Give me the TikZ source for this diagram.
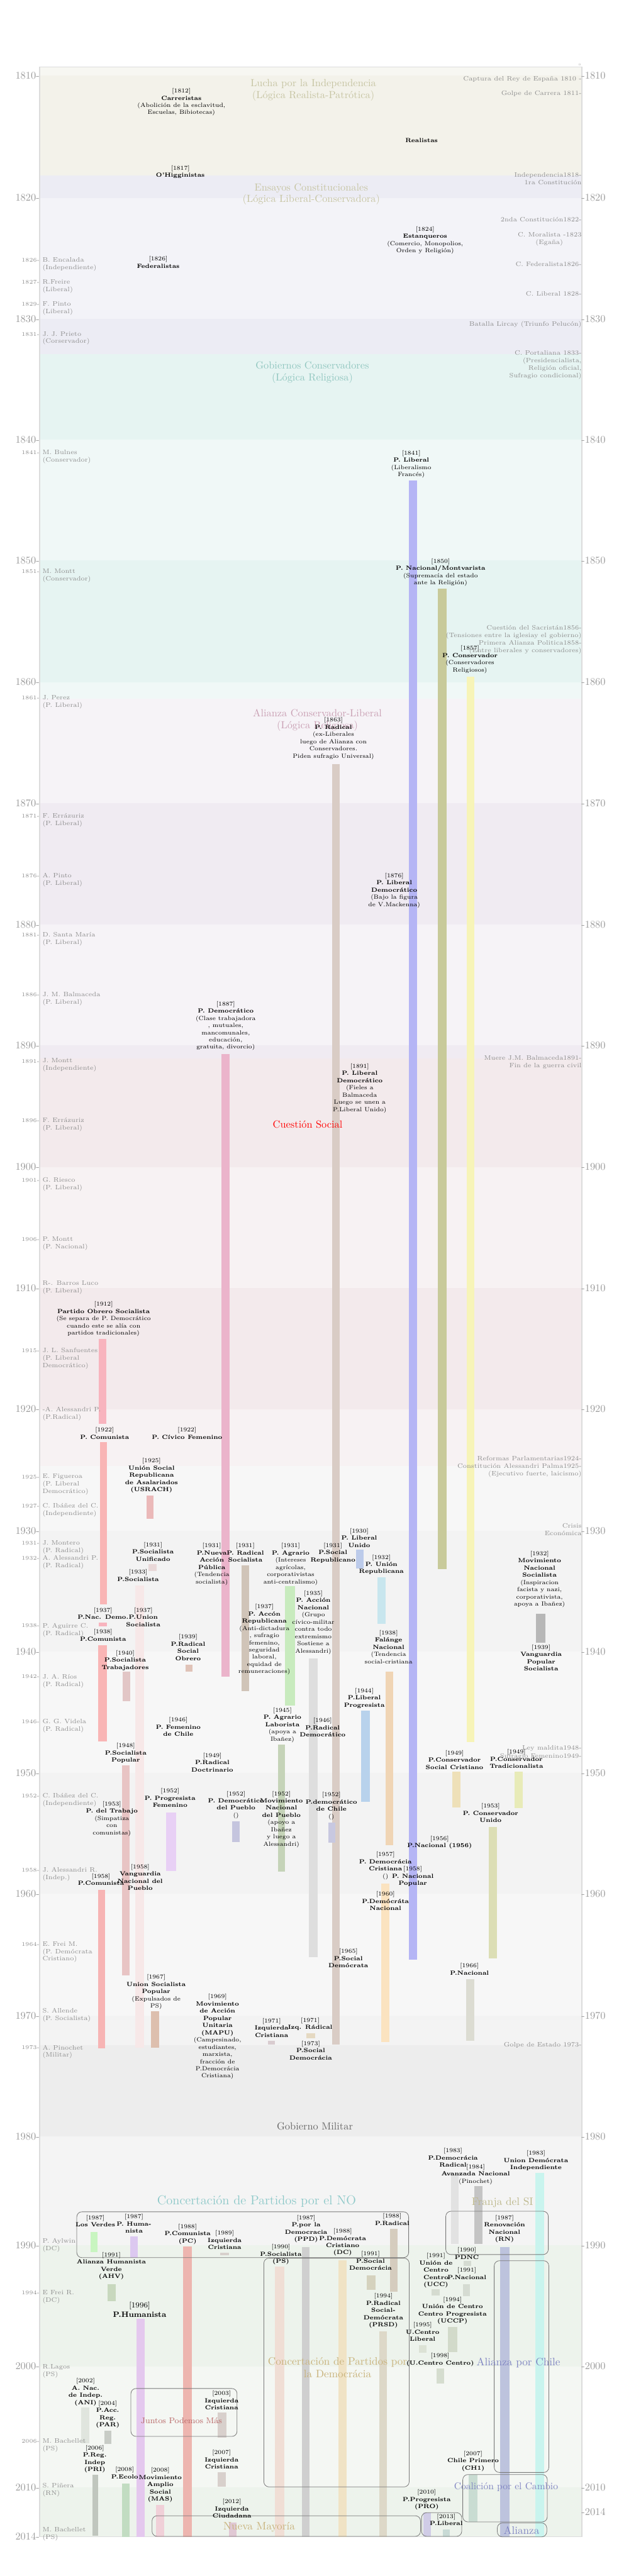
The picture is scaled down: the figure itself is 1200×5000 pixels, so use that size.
\documentclass[tikz,border=0pt]{standalone}
\usepackage{fontspec}
\definecolor{gtx}{HTML}{8E8E8E}
\definecolor{axg}{HTML}{9A9A9A}
\definecolor{framec}{HTML}{DCDCDC}
\definecolor{boxg}{HTML}{7A7A7A}
\definecolor{eA}{HTML}{F3F2EA}
\definecolor{eB}{HTML}{ECECF4}
\definecolor{eC}{HTML}{E6F4F2}
\definecolor{eD}{HTML}{F0EBF2}
\definecolor{eE}{HTML}{F3EAEC}
\definecolor{eF}{HTML}{F3F3F3}
\definecolor{eG}{HTML}{EDEDED}
\definecolor{eH}{HTML}{EDF3EC}
\definecolor{tA}{HTML}{C6C4A2}
\definecolor{tC}{HTML}{90C6BF}
\definecolor{tD}{HTML}{C99FB3}
\definecolor{tGob}{HTML}{666666}
\definecolor{tNO}{HTML}{8CC8C8}
\definecolor{tSI}{HTML}{BDB88C}
\definecolor{tCon}{HTML}{C8B27A}
\definecolor{tAl}{HTML}{7F84C2}
\definecolor{tJP}{HTML}{B86868}
\newcommand{\pty}[4]{\node[pty] (#1) at (#2,#3-6) {#4};}
\newcommand{\pbar}[5]{\definecolor{barc}{HTML}{#5}\fill[barc] (#1,#2) rectangle (#3,#4);}
\newcommand{\prs}[4]{\node[presyr] (#1y) at (77,#2+3) {#3}; \node[pres] (#1) at (82,#2-6) {#4};}
\newcommand{\prn}[3]{\node[pres] (#1) at (82,#2-6) {#3};}
\newcommand{\evnt}[3]{\node[evt] (#1) at (1129,#2-6) {#3};}
\begin{document}
\begin{tikzpicture}[x=0.5pt,y=-0.5pt,
 pty/.style={anchor=north, align=center, inner sep=0pt, font=\fontsize{5.8}{7}\selectfont},
 pres/.style={anchor=north west, align=left, inner sep=0pt, text=gtx, font=\fontsize{6.2}{7.3}\selectfont},
 presyr/.style={anchor=base east, inner sep=0pt, text=gtx, font=\fontsize{5.4}{6.5}\selectfont},
 evt/.style={anchor=north east, align=right, inner sep=0pt, text=gtx, font=\fontsize{6.2}{7.3}\selectfont},
 yrl/.style={anchor=east, inner sep=0pt, text=axg, font=\fontsize{10}{12}\selectfont},
 yrr/.style={anchor=west, inner sep=0pt, text=axg, font=\fontsize{10}{12}\selectfont},
 era/.style={align=center, inner sep=0pt, font=\fontsize{10}{11.3}\selectfont},
 coal/.style={draw=boxg, line width=0.5pt, rounded corners=5pt},
 ctitle/.style={align=center, inner sep=0pt}]
\useasboundingbox (0,0) rectangle (1200,5000);
\fill[white] (0,0) rectangle (1200,5000);
% eras
\fill[eA] (77,130) rectangle (1129,341);
\fill[eB] (77,341) rectangle (1129,687);
\fill[eC] (77,687) rectangle (1129,1356);
\fill[eD] (77,1356) rectangle (1129,2055);
\fill[eE] (77,2055) rectangle (1129,2845);
\fill[eF] (77,2845) rectangle (1129,3970);
\fill[eG] (77,3970) rectangle (1129,4358);
\fill[eH] (77,4358) rectangle (1129,4924);
\foreach \a/\b in {130/147,384/619,853/1088,1324/1559,1795/2029,2265/2500,2735/2971,3206/3441,3676/3912,4147/4358,4593/4828}
  \fill[white,opacity=0.4] (77,\a) rectangle (1129,\b);
\draw[framec, line width=0.8pt] (77,130) rectangle (1129,4924);
\node[inner sep=0pt, text=axg, font=\fontsize{3}{3}\selectfont] (zero) at (1125,126) {0};
% axis
\foreach \yr/\yy in {1810/147,1820/384,1830/619,1840/853,1850/1088,1860/1324,1870/1559,1880/1795,1890/2029,1900/2265,1910/2500,1920/2735,1930/2971,1940/3206,1950/3441,1960/3676,1970/3912,1980/4147,1990/4358,2000/4593,2010/4828}{
  \node[yrl] (L\yr) at (77,\yy) {\yr-};
  \node[yrr] (R\yr) at (1128,\yy) {-\yr};
}
\node[yrl] (L2014) at (77,4923) {2014-};
\node[yrr] (R2014) at (1128,4876) {-2014};
% bars
\pbar{793}{933}{809}{3804}{B5B5F5}
\pbar{849}{1142}{867}{3046}{C8CA9A}
\pbar{906}{1314}{920}{3381}{F7F4B8}
\pbar{645}{1483}{659}{3969}{D9CCC5}
\pbar{430}{2046}{445}{3254}{EBB4CB}
\pbar{192}{2599}{206}{2764}{F8B4BE}
\pbar{194}{2799}{207}{3114}{F9B5B5}
\pbar{285}{2903}{298}{2948}{EBB9B9}
\pbar{691}{3008}{706}{3044}{BCCBEA}
\pbar{288}{3036}{304}{3049}{E9D8D8}
\pbar{469}{3038}{484}{3283}{D0C4B8}
\pbar{553}{3079}{572}{3310}{C8EBBE}
\pbar{732}{3062}{748}{3152}{C8E6EE}
\pbar{1040}{3132}{1058}{3188}{B7B7B7}
\pbar{263}{3077}{280}{3975}{F7E8E8}
\pbar{599}{3219}{617}{3799}{DEDEDE}
\pbar{192}{3149}{207}{3157}{F8B4BE}
\pbar{191}{3193}{207}{3380}{F9B5B5}
\pbar{748}{3245}{763}{3582}{F0D5B5}
\pbar{360}{3231}{373}{3244}{E0C3B8}
\pbar{238}{3245}{253}{3302}{E2C6C6}
\pbar{701}{3320}{718}{3497}{B8D2EC}
\pbar{539}{3386}{553}{3633}{C5D3B8}
\pbar{237}{3426}{252}{3834}{E8C4C4}
\pbar{878}{3439}{893}{3508}{EEE0B8}
\pbar{999}{3439}{1015}{3509}{E8EBB8}
\pbar{322}{3518}{342}{3631}{E8D0F5}
\pbar{451}{3535}{465}{3575}{C5C5DE}
\pbar{637}{3538}{651}{3577}{C8C8E0}
\pbar{949}{3546}{964}{3801}{DCDEB5}
\pbar{740}{3656}{756}{3964}{FBE3C0}
\pbar{190}{3668}{204}{3976}{F7B4B4}
\pbar{905}{3842}{920}{3961}{DCDCD2}
\pbar{293}{3904}{309}{3974}{DDBFAE}
\pbar{520}{3961}{533}{3968}{D9CCD0}
\pbar{594}{3947}{612}{3956}{E5D9C2}
\pbar{875}{4220}{890}{4356}{E2E2E2}
\pbar{921}{4243}{936}{4356}{C4C4C4}
\pbar{1039}{4218}{1056}{4924}{C9F4EE}
\pbar{970}{4361}{989}{4924}{BDC3DD}
\pbar{176}{4332}{189}{4371}{C8F5C0}
\pbar{253}{4341}{267}{4382}{DCC8F0}
\pbar{355}{4360}{372}{4924}{EDB5AF}
\pbar{427}{4373}{444}{4377}{D8D0CC}
\pbar{586}{4361}{601}{4924}{CFCFCF}
\pbar{657}{4387}{673}{4924}{F0E3C5}
\pbar{757}{4326}{771}{4448}{D5CCBE}
\pbar{534}{4399}{552}{4924}{F0DED5}
\pbar{209}{4433}{224}{4466}{C8D8BE}
\pbar{900}{4388}{914}{4398}{D5DBD2}
\pbar{712}{4417}{729}{4445}{D5D2BE}
\pbar{838}{4443}{853}{4456}{D5DBD0}
\pbar{899}{4434}{912}{4457}{D5DBD2}
\pbar{736}{4525}{751}{4924}{DDD8C8}
\pbar{869}{4516}{888}{4565}{D2DACA}
\pbar{813}{4552}{828}{4566}{DCE2D5}
\pbar{847}{4597}{862}{4627}{D5DDCF}
\pbar{265}{4501}{281}{4924}{E4C8EE}
\pbar{158}{4673}{173}{4742}{E0E5DE}
\pbar{203}{4718}{216}{4743}{C8CCC6}
\pbar{422}{4683}{440}{4731}{D8D0CC}
\pbar{179}{4804}{190}{4922}{C0C6BE}
\pbar{422}{4799}{438}{4827}{D8D0CC}
\pbar{237}{4821}{252}{4924}{C2DCC2}
\pbar{303}{4862}{318}{4924}{F0D0D8}
\pbar{444}{4896}{459}{4924}{E0C8D4}
\pbar{910}{4804}{927}{4895}{C9DCD2}
\pbar{822}{4877}{836}{4923}{D0CCE6}
\pbar{859}{4910}{873}{4924}{C8DAD5}
% era titles
\node[era, text=tA] (eraA) at (608,175) {Lucha por la Independencia\\(Lógica Realista-Patrótica)};
\node[era, text=tA] (eraB) at (604,377) {Ensayos Constitucionales\\(Lógica Liberal-Conservadora)};
\node[era, text=tC] (eraC) at (606,723) {Gobiernos Conservadores\\(Lógica Religiosa)};
\node[era, text=tD] (eraD) at (616,1398) {Alianza Conservador-Liberal\\(Lógica Religiosa)};
\node[era, text=red] (eraE) at (597,2183) {Cuestión Social};
\node[era, text=tGob] (eraG) at (611,4127) {Gobierno Militar};
% coalition boxes
\draw[coal] (149,4293) rectangle (793,4382);
\draw[coal] (512,4383) rectangle (794,4827);
\draw[coal] (865,4292) rectangle (1064,4376);
\draw[coal] (959,4388) rectangle (1065,4799);
\draw[coal] (254,4636) rectangle (460,4729);
\draw[coal] (898,4803) rectangle (1062,4895);
\draw[coal] (295,4883) rectangle (816,4923);
\draw[coal] (818,4877) rectangle (896,4923);
\draw[coal] (965,4897) rectangle (1061,4924);
% coalition titles
\node[ctitle, text=tNO, font=\fontsize{12.5}{14}\selectfont] (noT) at (498,4273) {Concertación de Partidos por el NO};
\node[ctitle, text=tSI, font=\fontsize{10.5}{12}\selectfont] (siT) at (975,4275) {Franja del SI};
\node[ctitle, text=tCon, font=\fontsize{10.5}{12}\selectfont] (conT) at (655,4595) {Concertación de Partidos por\\la Democrácia};
\node[ctitle, text=tAl, font=\fontsize{10.5}{12}\selectfont] (apcT) at (1006,4586) {Alianza por Chile};
\node[ctitle, text=tJP, font=\fontsize{8}{10}\selectfont] (jpT) at (352,4698) {Juntos Podemos Más};
\node[ctitle, text=tAl, font=\fontsize{9.5}{11}\selectfont] (cpcT) at (982,4827) {Coalición por el Cambio};
\node[ctitle, text=tCon, font=\fontsize{10.5}{12}\selectfont] (nmT) at (503,4905) {Nueva Mayoría};
\node[ctitle, text=tAl, font=\fontsize{10.5}{12}\selectfont] (alT) at (1012,4911) {Alianza};
% parties
\pty{carr}{352}{177}{[1812]\\\textbf{Carreristas}\\(Abolición de la esclavitud,\\Escuelas, Bibiotecas)}
\pty{real}{818}{274}{\textbf{Realistas}}
\pty{ohig}{350}{327}{[1817]\\\textbf{O'Higginistas}}
\pty{estq}{825}{445}{[1824]\\\textbf{Estanqueros}\\(Comercio, Monopolios,\\Orden y Religión)}
\pty{fedr}{307}{503}{[1826]\\\textbf{Federalistas}}
\pty{plib}{798}{880}{[1841]\\\textbf{P. Liberal}\\(Liberalismo\\Francés)}
\pty{pnac}{855}{1090}{[1850]\\\textbf{P. Nacional/Montvarista}\\(Supremacía del estado\\ante la Religión)}
\pty{pcon}{912}{1259}{[1857]\\\textbf{P. Conservador}\\(Conservadores\\Religiosos)}
\pty{prad}{647}{1398}{[1863]\\\textbf{P. Radical}\\(ex-Liberales\\luego de Alianza con\\Conservadores.\\Piden sufragio Universal)}
\pty{pld76}{765}{1700}{[1876]\\\textbf{P. Liberal}\\\textbf{Democrático}\\(Bajo la figura\\de V.Mackenna)}
\pty{pdem}{438}{1949}{[1887]\\\textbf{P. Democrático}\\(Clase trabajadora\\, mutuales,\\mancomunales,\\educación,\\gratuita, divorcio)}
\pty{pld91}{698}{2070}{[1891]\\\textbf{P. Liberal}\\\textbf{Democrático}\\(Fieles a\\Balmaceda\\Luego se unen a\\P.Liberal Unido)}
\pty{pos}{201}{2532}{[1912]\\\textbf{Partido Obrero Socialista}\\(Se separa de P. Democrático\\cuando este se alía con\\partidos tradicionales)}
\pty{pc22}{203}{2776}{[1922]\\\textbf{P. Comunista}}
\pty{pcf}{363}{2776}{[1922]\\\textbf{P. Cívico Femenino}}
\pty{usrach}{294}{2836}{[1925]\\\textbf{Unión Social}\\\textbf{Republicana}\\\textbf{de Asalariados}\\\textbf{(USRACH)}}
\pty{plu}{697}{2972}{[1930]\\\textbf{P. Liberal}\\\textbf{Unido}}
\pty{psu}{297}{2999}{[1931]\\\textbf{P.Socialista}\\\textbf{Unificado}}
\pty{pnap}{411}{3001}{[1931]\\\textbf{P.Nueva}\\\textbf{Acción}\\\textbf{Pública}\\(Tendencia\\socialista)}
\pty{prs}{476}{3001}{[1931]\\\textbf{P. Radical}\\\textbf{Socialista}}
\pty{pagr}{564}{3001}{[1931]\\\textbf{P. Agrario}\\(Intereses\\agrícolas,\\corporativistas\\anti-centralismo)}
\pty{psr}{646}{3000}{[1931]\\\textbf{P.Social}\\\textbf{Republicano}}
\pty{pur}{740}{3023}{[1932]\\\textbf{P. Unión}\\\textbf{Republicana}}
\pty{mns}{1047}{3016}{[1932]\\\textbf{Movimiento}\\\textbf{Nacional}\\\textbf{Socialista}\\(Inspiracion\\facista y nazi,\\corporativista,\\apoya a Ibañez)}
\pty{ps33}{268}{3052}{[1933]\\\textbf{P.Socialista}}
\pty{pan}{608}{3093}{[1935]\\\textbf{P. Acción}\\\textbf{Nacional}\\(Grupo\\cívico-militar\\contra todo\\extremismo\\Sostiene a\\Alessandri)}
\pty{pnd}{200}{3126}{[1937]\\\textbf{P.Nac. Demo.}}
\pty{pus}{278}{3126}{[1937]\\\textbf{P.Union}\\\textbf{Socialista}}
\pty{par}{513}{3119}{[1937]\\\textbf{P. Accón}\\\textbf{Republicana}\\(Anti-dictadura\\, sufragio\\femenino,\\seguridad\\laboral,\\equidad de\\remuneraciones)}
\pty{pc38}{200}{3168}{[1938]\\\textbf{P.Comunista}}
\pty{fal}{754}{3170}{[1938]\\\textbf{Falánge}\\\textbf{Nacional}\\(Tendencia\\social-cristiana}
\pty{prso}{365}{3178}{[1939]\\\textbf{P.Radical}\\\textbf{Social}\\\textbf{Obrero}}
\pty{vps}{1050}{3198}{[1939]\\\textbf{Vanguardia}\\\textbf{Popular}\\\textbf{Socialista}}
\pty{pst}{243}{3209}{[1940]\\\textbf{P.Socialista}\\\textbf{Trabajadores}}
\pty{plp}{707}{3282}{[1944]\\\textbf{P.Liberal}\\\textbf{Progresista}}
\pty{pal}{548}{3320}{[1945]\\\textbf{P. Agrario}\\\textbf{Laborista}\\(apoya a\\Ibañez)}
\pty{pfc}{346}{3339}{[1946]\\\textbf{P. Femenino}\\\textbf{de Chile}}
\pty{prd}{626}{3340}{[1946]\\\textbf{P.Radical}\\\textbf{Democrático}}
\pty{psp}{244}{3389}{[1948]\\\textbf{P.Socialista}\\\textbf{Popular}}
\pty{prdoc}{412}{3408}{[1949]\\\textbf{P.Radical}\\\textbf{Doctrinario}}
\pty{pcsc}{882}{3403}{[1949]\\\textbf{P.Conservador}\\\textbf{Social Cristiano}}
\pty{pct}{1002}{3401}{[1949]\\\textbf{P.Conservador}\\\textbf{Tradicionalista}}
\pty{ppf}{330}{3477}{[1952]\\\textbf{P. Progresista}\\\textbf{Femenino}}
\pty{pdp}{458}{3482}{[1952]\\\textbf{P. Democrático}\\\textbf{del Pueblo}\\()}
\pty{mnp}{546}{3482}{[1952]\\\textbf{Movimiento}\\\textbf{Nacional}\\\textbf{del Pueblo}\\(apoyo a\\Ibañez\\y luego a\\Alessandri)}
\pty{pdc52}{643}{3484}{[1952]\\\textbf{P.democrático}\\\textbf{de Chile}\\()}
\pty{ptr}{217}{3502}{[1953]\\\textbf{P. del Trabajo}\\(Simpatiza\\con\\comunistas)}
\pty{pcu}{952}{3506}{[1953]\\\textbf{P. Conservador}\\\textbf{Unido}}
\pty{pn56}{853}{3569}{[1956]\\\textbf{P.Nacional (1956)}}
\pty{pdc57}{748}{3600}{[1957]\\\textbf{P. Democrácia}\\\textbf{Cristiana}\\()}
\pty{vnp}{272}{3624}{[1958]\\\textbf{Vanguardia}\\\textbf{Nacional del}\\\textbf{Pueblo}}
\pty{pc58}{196}{3642}{[1958]\\\textbf{P.Comunista}}
\pty{pnp}{801}{3628}{[1958]\\\textbf{P. Nacional}\\\textbf{Popular}}
\pty{pdn}{748}{3677}{[1960]\\\textbf{P.Demócráta}\\\textbf{Nacional}}
\pty{psd65}{676}{3788}{[1965]\\\textbf{P.Social}\\\textbf{Demócrata}}
\pty{pn66}{911}{3816}{[1966]\\\textbf{P.Nacional}}
\pty{usp}{303}{3838}{[1967]\\\textbf{Union Socialista}\\\textbf{Popular}\\(Expulsados de\\PS)}
\pty{mapu}{422}{3876}{[1969]\\\textbf{Movimiento}\\\textbf{de Acción}\\\textbf{Popular}\\\textbf{Unitaria}\\\textbf{(MAPU)}\\(Campesinado,\\estudiantes,\\marxista,\\fracción de\\P.Democrácia\\Cristiana)}
\pty{ic71}{527}{3923}{[1971]\\\textbf{Izquierda}\\\textbf{Cristiana}}
\pty{ir71}{602}{3922}{[1971]\\\textbf{Izq. Rádical}}
\pty{psd73}{603}{3967}{[1973]\\\textbf{P.Social}\\\textbf{Democrácia}}
\pty{pdr83}{879}{4175}{[1983]\\\textbf{P.Democrácia}\\\textbf{Radical}}
\pty{an84}{923}{4206}{[1984]\\\textbf{Avanzada Nacional}\\(Pinochet)}
\pty{udi}{1040}{4180}{[1983]\\\textbf{Union Demócrata}\\\textbf{Independiente}}
\pty{rn}{979}{4305}{[1987]\\\textbf{Renovación}\\\textbf{Nacional}\\\textbf{(RN)}}
\pty{lv}{185}{4305}{[1987]\\\textbf{Los Verdes}}
\pty{phu87}{260}{4303}{[1987]\\\textbf{P. Huma-}\\\textbf{nista}}
\pty{pc88}{364}{4322}{[1988]\\\textbf{P.Comunista}\\\textbf{(PC)}}
\pty{ic89}{436}{4335}{[1989]\\\textbf{Izquierda}\\\textbf{Cristiana}}
\pty{ppd}{594}{4305}{[1987]\\\textbf{P.por la}\\\textbf{Democracia}\\\textbf{(PPD)}}
\pty{dc88}{665}{4331}{[1988]\\\textbf{P.Demócrata}\\\textbf{Cristiano}\\\textbf{(DC)}}
\pty{pr88}{761}{4302}{[1988]\\\textbf{P.Radical}}
\pty{ps90}{545}{4362}{[1990]\\\textbf{P.Socialista}\\\textbf{(PS)}}
\pty{ahv}{216}{4377}{[1991]\\\textbf{Alianza Humanista}\\\textbf{Verde}\\\textbf{(AHV)}}
\pty{pdnc}{906}{4368}{[1990]\\\textbf{PDNC}}
\pty{psdm91}{719}{4375}{[1991]\\\textbf{P.Social}\\\textbf{Democrácia}}
\pty{ucc}{846}{4379}{[1991]\\\textbf{Unión de}\\\textbf{Centro}\\\textbf{Centro}\\\textbf{(UCC)}}
\pty{pn91}{906}{4407}{[1991]\\\textbf{P.Nacional}}
\pty{prsd}{744}{4457}{[1994]\\\textbf{P.Radical}\\\textbf{Social-}\\\textbf{Demócrata}\\\textbf{(PRSD)}}
\pty{uccp}{878}{4464}{[1994]\\\textbf{Unión de Centro}\\\textbf{Centro Progresista}\\\textbf{(UCCP)}}
\pty{ucl}{820}{4513}{[1995]\\\textbf{U.Centro}\\\textbf{Liberal}}
\pty{ucc98}{854}{4573}{[1998]\\\textbf{(U.Centro Centro)}}
\node[pty, font=\fontsize{7.5}{9}\selectfont] (phu96) at (271,4468) {[1996]\\\textbf{P.Humanista}};
\pty{ani}{166}{4622}{[2002]\\\textbf{A. Nac.}\\\textbf{de Indep.}\\\textbf{(ANI)}}
\pty{par04}{209}{4665}{[2004]\\\textbf{P.Acc.}\\\textbf{Reg.}\\\textbf{(PAR)}}
\pty{ic03}{430}{4646}{[2003]\\\textbf{Izquierda}\\\textbf{Cristiana}}
\pty{pri}{184}{4752}{[2006]\\\textbf{P.Reg.}\\\textbf{Indep}\\\textbf{(PRI)}}
\pty{ic07}{430}{4761}{[2007]\\\textbf{Izquierda}\\\textbf{Cristiana}}
\pty{peco}{242}{4794}{[2008]\\\textbf{P.Ecolo}}
\pty{mas}{311}{4795}{[2008]\\\textbf{Movimiento}\\\textbf{Amplio}\\\textbf{Social}\\\textbf{(MAS)}}
\pty{icd}{450}{4856}{[2012]\\\textbf{Izquierda}\\\textbf{Ciudadana}}
\pty{ch1}{918}{4763}{[2007]\\\textbf{Chile Primero}\\\textbf{(CH1)}}
\pty{pro}{828}{4838}{[2010]\\\textbf{P.Progresista}\\\textbf{(PRO)}}
\pty{plib13}{866}{4885}{[2013]\\\textbf{P.Liberal}}
% presidents
\prs{p1826}{505}{1826-}{B. Encalada\\(Independiente)}
\prs{p1827}{548}{1827-}{R.Freire\\(Liberal)}
\prs{p1829}{591}{1829-}{F. Pinto\\(Liberal)}
\prs{p1831}{649}{1831-}{J. J. Prieto\\(Corservador)}
\prs{p1841}{879}{1841-}{M. Bulnes\\(Conservador)}
\prs{p1851}{1110}{1851-}{M. Montt\\(Conservador)}
\prs{p1861}{1355}{1861-}{J. Perez\\(P. Liberal)}
\prs{p1871}{1585}{1871-}{F. Errázuriz\\(P. Liberal)}
\prs{p1876}{1700}{1876-}{A. Pinto\\(P. Liberal)}
\prs{p1881}{1815}{1881-}{D. Santa María\\(P. Liberal)}
\prs{p1886}{1931}{1886-}{J. M. Balmaceda\\(P. Liberal)}
\prs{p1891}{2060}{1891-}{J. Montt\\(Independiente)}
\prs{p1896}{2175}{1896-}{F. Errázuriz\\(P. Liberal)}
\prs{p1901}{2291}{1901-}{G. Riesco\\(P. Liberal)}
\prs{p1906}{2406}{1906-}{P. Montt\\(P. Nacional)}
\prn{p1910}{2492}{R-. Barros Luco\\(P. Liberal)}
\prs{p1915}{2622}{1915-}{J. L. Sanfuentes\\(P. Liberal\\Democrático)}
\prn{p1920}{2737}{-A. Alessandri P.\\(P.Radical)}
\prs{p1925}{2867}{1925-}{E. Figueroa\\(P. Liberal\\Democrático)}
\prs{p1927}{2924}{1927-}{C. Ibáñez del C.\\(Independiente)}
\prs{p1931}{2996}{1931-}{J. Montero\\(P. Radical)}
\prs{p1932}{3025}{1932-}{A. Alessandri P.\\(P. Radical)}
\prs{p1938}{3156}{1938-}{P. Aguirre C.\\(P. Radical)}
\prs{p1942}{3255}{1942-}{J. A. Ríos\\(P. Radical)}
\prs{p1946}{3342}{1946-}{G. G. Videla\\(P. Radical)}
\prs{p1952}{3486}{1952-}{C. Ibáñez del C.\\(Independiente)}
\prs{p1958}{3630}{1958-}{J. Alessandri R.\\(Indep.)}
\prs{p1964}{3774}{1964-}{E. Frei M.\\(P. Demócrata\\Cristiano)}
\prn{p1970}{3903}{S. Allende\\(P. Socialista)}
\prs{p1973}{3975}{1973-}{A. Pinochet\\(Militar)}
\prn{p1990}{4350}{P. Aylwin\\(DC)}
\prs{p1994}{4451}{1994-}{E Frei R.\\(DC)}
\prn{p2000}{4595}{R.Lagos\\(PS)}
\prs{p2006}{4739}{2006-}{M. Bachellet\\(PS)}
\prn{p2010}{4825}{S. Piñera\\(RN)}
\prn{p2014}{4911}{M. Bachellet\\(PS)}
% events
\evnt{ev1810}{154}{Captura del Rey de España 1810 -}
\evnt{ev1811}{182}{Golpe de Carrera 1811-}
\evnt{ev1818}{341}{Independencia1818-\\1ra Constitución}
\evnt{ev1822}{427}{2nda Constitución1822-}
\evnt{ev1823}{456}{C. Moralista -1823\\(Egaña)\hspace*{18pt}}
\evnt{ev1826}{514}{C. Federalista1826-}
\evnt{ev1828}{571}{C. Liberal 1828-}
\evnt{ev1830}{629}{Batalla Lircay (Triunfo Pelucón)}
\evnt{ev1833}{686}{C. Portaliana 1833-\\(Presidencialista,\\Religión oficial,\\Sufragio condicional)}
\evnt{ev1856}{1219}{Cuestión del Sacristán1856-\\(Tensiones entre la iglesiay el gobierno)}
\evnt{ev1858}{1248}{Primera Alianza Politica1858-\\(Entre liberales y conservadores)}
\evnt{ev1891}{2054}{Muere J.M. Balmaceda1891-\\Fin de la guerra civil}
\evnt{ev1924}{2832}{Reformas Parlamentarias1924-}
\evnt{ev1925}{2846}{Constitución Alessandri Palma1925-\\(Ejecutivo fuerte, laicismo)}
\evnt{ev1930}{2962}{Crisis\\Económica}
\evnt{ev1948}{3394}{Ley maldita1948-}
\evnt{ev1949}{3409}{Sufragio Femenino1949-}
\evnt{ev1973}{3970}{Golpe de Estado 1973-}
\end{tikzpicture}
\end{document}
